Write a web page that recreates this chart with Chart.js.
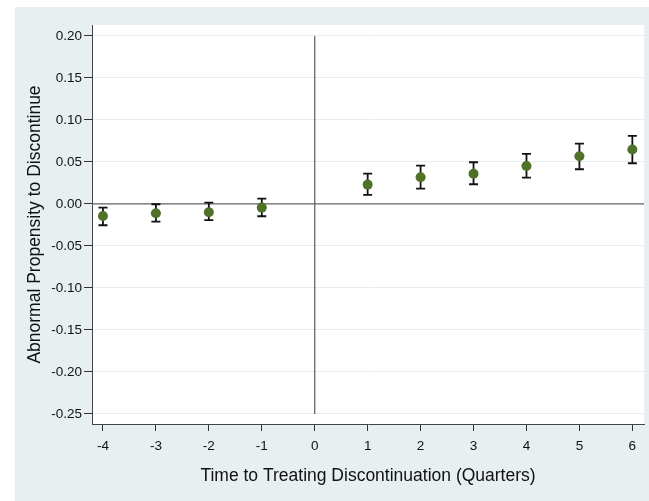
<!DOCTYPE html>
<html>
<head>
<meta charset="utf-8">
<script src="https://cdn.jsdelivr.net/npm/chart.js@4.4.0/dist/chart.umd.min.js"></script>
<style>
html, body { margin: 0; padding: 0; background: #fff; }
#wrap { position: absolute; left: 15px; top: 7px; width: 634px; height: 494px; background: #e8eff1; }
</style>
</head>
<body>
<div id="wrap"><canvas id="c"></canvas></div>
<script>
Chart.defaults.font.family = "'Liberation Sans', Arial, sans-serif";
Chart.defaults.color = '#111';

// quarters relative to the treating discontinuation
const quarters  = [-4, -3, -2, -1, 1, 2, 3, 4, 5, 6];
const estimates = [-0.0143, -0.0111, -0.0099, -0.0044, 0.0230, 0.0317, 0.0360, 0.0452, 0.0567, 0.0647];
const ciLow     = [-0.0254, -0.0210, -0.0194, -0.0147, 0.0107, 0.0183, 0.0234, 0.0313, 0.0413, 0.0484];
const ciHigh    = [-0.0044, -0.0004,  0.0016,  0.0063, 0.0360, 0.0456, 0.0496, 0.0595, 0.0718, 0.0810];

const xTicks = [-4, -3, -2, -1, 0, 1, 2, 3, 4, 5, 6];
const yTicks = [-0.25, -0.20, -0.15, -0.10, -0.05, 0.00, 0.05, 0.10, 0.15, 0.20];

const plotBg = {
    id: 'plotBg',
    beforeDraw(chart) {
        const { ctx, chartArea: a } = chart;
        ctx.save();
        ctx.fillStyle = '#ffffff';
        ctx.fillRect(a.left, a.top, a.right - a.left, a.bottom - a.top);
        ctx.restore();
    }
};

// reference lines at x = 0 and y = 0, plus the confidence intervals
const refAndErrors = {
    id: 'refAndErrors',
    beforeDatasetsDraw(chart) {
        const { ctx, chartArea: a, scales: { x, y } } = chart;
        ctx.save();
        ctx.strokeStyle = '#666';
        ctx.lineWidth = 1.3;
        const y0 = y.getPixelForValue(0);
        ctx.beginPath(); ctx.moveTo(a.left, y0); ctx.lineTo(a.right, y0); ctx.stroke();
        const x0 = x.getPixelForValue(0);
        ctx.beginPath();
        ctx.moveTo(x0, y.getPixelForValue(yTicks[0]));
        ctx.lineTo(x0, y.getPixelForValue(yTicks[yTicks.length - 1]));
        ctx.stroke();

        ctx.strokeStyle = '#111';
        ctx.lineWidth = 1.8;
        quarters.forEach((q, i) => {
            const px = x.getPixelForValue(q);
            const lo = y.getPixelForValue(ciLow[i]);
            const hi = y.getPixelForValue(ciHigh[i]);
            ctx.beginPath();
            ctx.moveTo(px, lo); ctx.lineTo(px, hi);
            ctx.moveTo(px - 4.5, lo); ctx.lineTo(px + 4.5, lo);
            ctx.moveTo(px - 4.5, hi); ctx.lineTo(px + 4.5, hi);
            ctx.stroke();
        });
        ctx.restore();
    }
};

new Chart(document.getElementById('c'), {
    type: 'scatter',
    data: {
        datasets: [{
            data: quarters.map((q, i) => ({ x: q, y: estimates[i] })),
            backgroundColor: '#4f7128',
            borderWidth: 0,
            pointRadius: 5,
            pointHoverRadius: 5
        }]
    },
    options: {
        responsive: true, maintainAspectRatio: false, animation: false,
        layout: { padding: { top: 18, right: 2, left: 0, bottom: 0 } },
        plugins: { legend: { display: false }, tooltip: { enabled: false } },
        scales: {
            x: {
                type: 'linear', min: -4.207, max: 6.22,
                afterBuildTicks: s => { s.ticks = xTicks.map(v => ({ value: v })); },
                afterFit: s => { s.height = 77; },
                ticks: { font: { size: 13.5 }, color: '#111', padding: 7, callback: v => String(v) },
                grid: { drawOnChartArea: false, tickColor: '#333', tickLength: 7 },
                border: { color: '#444', width: 1 },
                title: { display: true, text: 'Time to Treating Discontinuation (Quarters)', font: { size: 17.5 }, color: '#111', padding: 14.5 }
            },
            y: {
                min: -0.262, max: 0.213,
                afterBuildTicks: s => { s.ticks = yTicks.map(v => ({ value: v })); },
                afterFit: s => { s.width = 77; },
                ticks: { font: { size: 13.5 }, color: '#111', padding: 2, callback: v => v.toFixed(2) },
                grid: { color: '#e5edf0', tickColor: '#333', tickLength: 8 },
                border: { color: '#444', width: 1 },
                title: { display: true, text: 'Abnormal Propensity to Discontinue', font: { size: 17.5 }, color: '#111', padding: 9.5 }
            }
        }
    },
    plugins: [plotBg, refAndErrors]
});
</script>
</body>
</html>
